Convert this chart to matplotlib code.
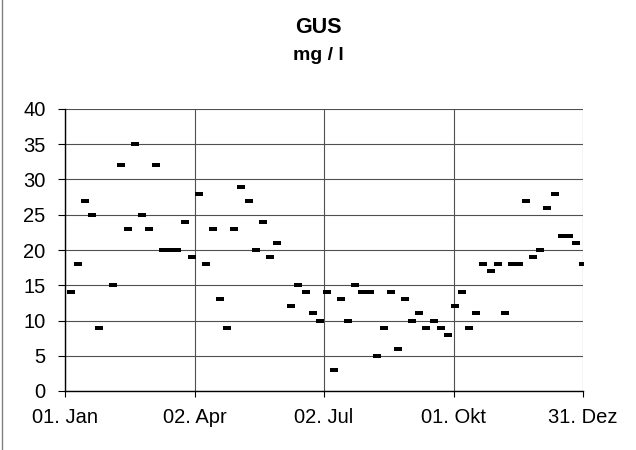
import matplotlib
matplotlib.use('Agg')
import matplotlib.pyplot as plt
from matplotlib.lines import Line2D

plt.rcParams['font.family'] = ['Liberation Sans', 'DejaVu Sans']

# sampling day (days after 01. Jan) and GUS value in mg/l
days = [4, 9, 14, 19, 24, 34, 39, 44, 49, 54, 59, 64, 69, 74, 79, 84, 89,
        94, 99, 104, 109, 114, 119, 124, 129, 134, 139, 144, 149, 159, 164,
        169, 174, 179, 184, 189, 194, 199, 204, 209, 214, 219, 224, 229, 234,
        239, 244, 249, 254, 259, 264, 269, 274, 279, 284, 289, 294, 299, 304,
        309, 314, 319, 324, 329, 334, 339, 344, 349, 354, 359, 364]
gus = [14, 18, 27, 25, 9, 15, 32, 23, 35, 25, 23, 32, 20, 20, 20, 24, 19,
       28, 18, 23, 13, 9, 23, 29, 27, 20, 24, 19, 21, 12, 15,
       14, 11, 10, 14, 3, 13, 10, 15, 14, 14, 5, 9, 14,
       6, 13, 10, 11, 9, 10, 9, 8, 12, 14, 9, 11, 18, 17, 18,
       11, 18, 18, 27, 19, 20, 26, 28, 22, 22, 21, 18]

tick_days = [0, 91, 182, 273, 364]
tick_labels = ['01. Jan', '02. Apr', '02. Jul', '01. Okt', '31. Dez']

dash = [(-1, -0.5), (1, -0.5), (1, 0.5), (-1, 0.5), (-1, -0.5)]

fig = plt.figure(figsize=(6.36, 4.5), dpi=100)
ax = fig.add_axes([65/636, 59/450, 518/636, 282/450])

ax.plot(days, gus, linestyle='none', marker=dash, markersize=5.8,
        color='black', markeredgewidth=0)

ax.set_xlim(0, 364)
ax.set_ylim(0, 40)
ax.set_yticks(range(0, 41, 5))
ax.set_xticks(tick_days)
ax.set_xticklabels(tick_labels)
ax.grid(True, color='#505050', linewidth=0.8)
ax.set_axisbelow(True)
for s in ['top', 'right']:
    ax.spines[s].set_visible(False)
for s in ['left', 'bottom']:
    ax.spines[s].set_color('black')
    ax.spines[s].set_linewidth(1.0)
ax.tick_params(axis='y', direction='out', length=5, width=0.8, pad=9,
               labelsize=14.5, colors='black')
ax.tick_params(axis='x', direction='out', length=4.5, width=0.8, pad=8,
               labelsize=14.5, colors='black')

fig.text(0.5, 1 - 33/450, 'GUS', ha='center', va='baseline',
         fontsize=15.5, fontweight='bold')
fig.text(0.5, 1 - 60/450, 'mg / l', ha='center', va='baseline',
         fontsize=14, fontweight='bold')

fig.add_artist(Line2D([1.5/636, 1.5/636], [0, 1], transform=fig.transFigure,
                      color='#808080', linewidth=1))

fig.savefig('out.png', dpi=100)
